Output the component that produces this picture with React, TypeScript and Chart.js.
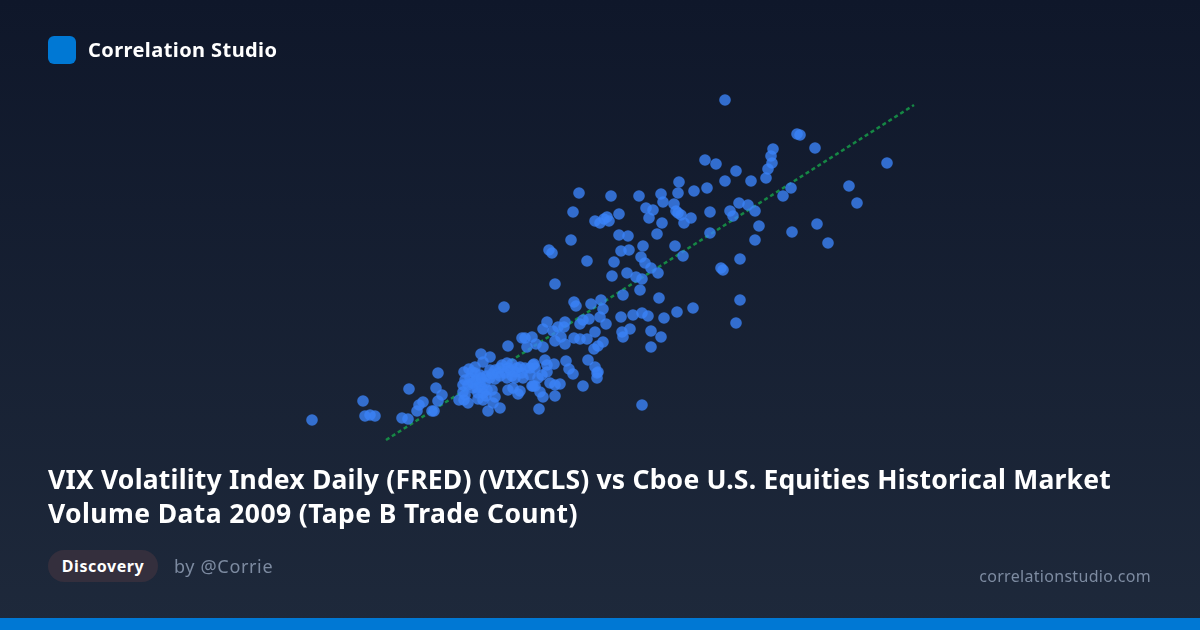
import { useEffect, useRef } from "react";
import { Chart, registerables } from "chart.js";

Chart.register(...registerables);

// the axes are hidden so units are estimated
const vixClose = [
  15.6, 18.15, 18.25, 18.5, 18.75, 20.45, 21.9, 21.8, 22.1, 21.9, 21.15, 20.95, 20.85, 20.1, 20.4, 21.6, 21.7, 25.2,
  25.4, 24.05, 24.5, 24.15, 23.75, 23.45, 23.2, 23.6, 25.35, 25.1, 25.6, 25.4, 24.75, 24.5, 24.9, 25.25, 25.75, 26.1,
  26.0, 26.65, 26.75, 27.25, 27.35, 27.7, 28.3, 27.35, 27.1, 26.9, 26.5, 26.15, 25.75, 25.35, 24.75, 24.5, 24.0, 23.75,
  23.25, 23.15, 23.15, 22.95, 23.2, 23.4, 23.25, 23.65, 24.0, 24.25, 24.1, 23.85, 24.35, 24.6, 24.15, 23.9, 24.15, 24.75,
  24.65, 24.4, 25.0, 25.4, 25.65, 26.0, 25.9, 26.65, 27.0, 27.15, 27.5, 27.75, 28.0, 27.75, 26.95, 26.75, 26.7, 26.6,
  23.5, 23.8, 24.05, 24.3, 24.6, 25.0, 25.5, 25.85, 26.25, 26.5, 25.6, 25.0, 23.9, 23.65, 23.4, 24.3,
  28.7, 28.8, 29.55, 30.05, 30.15, 30.0, 30.3, 29.45, 29.15, 29.0, 27.35, 27.15, 27.65, 27.9, 28.25, 28.2, 29.75, 28.7,
  29.0, 29.35, 30.15, 29.9, 29.7, 28.05, 27.75, 28.25, 26.1, 26.25, 26.6, 26.35, 26.8, 27.15, 29.4, 28.45, 28.65, 29.75,
  29.9, 29.85, 29.85, 29.15,
  34.65, 33.85, 32.95, 32.0, 31.15, 31.05, 31.65, 32.1, 32.4, 33.2, 32.55, 33.05, 32.55, 31.5, 31.1, 31.15, 37.0, 36.8, 32.1,
  28.95, 30.55, 31.95, 33.05, 33.95, 33.9, 34.7, 35.35, 36.25, 36.8, 37.55, 33.15, 33.7, 32.3, 32.65, 32.45, 28.65, 30.95,
  29.75, 30.0, 30.2, 30.35, 30.45, 33.8, 33.9, 34.05, 34.55, 34.2, 33.1, 32.85, 35.5, 36.5, 36.65, 36.95, 37.4, 37.75,
  37.95, 37.75, 35.5, 30.95, 31.4, 28.55, 32.15, 31.05, 31.45, 27.45, 27.6, 33.75, 34.15, 32.05, 32.25, 32.55, 32.9, 29.35,
  30.7, 31.35, 30.6, 31.8, 32.1, 27.75, 36.05, 36.15, 37.0,
  36.25, 39.85, 40.0, 40.75, 38.65, 38.55, 38.6, 38.4, 38.3, 44.35, 42.45, 42.85, 39.55, 39.15, 35.8, 35.25, 39.6, 40.85, 41.4,
];

const tapeBTrades = [
  21.0, 22.9, 21.4, 21.5, 21.4, 24.1, 25.7, 24.2, 23.5, 22.9, 22.8, 22.5, 21.9, 21.2, 21.1, 21.9, 21.9, 32.3,
  28.4, 27.6, 27.3, 26.8, 26.3, 26.1, 25.8, 25.8, 26.7, 26.5, 26.6, 26.2, 26.0, 26.0, 25.7, 25.7, 25.8, 25.7,
  26.3, 26.5, 26.2, 27.0, 26.5, 26.6, 26.9, 25.8, 25.5, 25.2, 25.5, 25.2, 25.2, 25.2, 25.1, 25.2, 25.5, 25.7,
  25.0, 24.5, 23.8, 23.0, 23.0, 22.7, 23.5, 24.7, 24.7, 24.7, 24.2, 24.2, 24.0, 24.0, 23.7, 23.1, 23.0, 23.3,
  22.7, 21.9, 22.2, 24.0, 24.2, 23.9, 23.6, 24.4, 23.8, 23.3, 24.7, 24.5, 24.6, 23.4, 22.1, 24.4, 26.6, 24.4,
  25.2, 25.0, 25.2, 25.4, 25.6, 26.2, 26.0, 26.2, 26.2, 26.2, 25.4, 25.4, 23.7, 24.2, 24.5, 23.4,
  32.8, 32.4, 32.6, 33.0, 32.1, 31.3, 30.6, 31.1, 31.0, 30.6, 30.8, 30.1, 29.9, 30.3, 30.8, 30.3, 29.8, 29.2,
  29.1, 29.1, 28.8, 28.4, 28.1, 29.3, 28.9, 28.6, 29.2, 29.2, 29.3, 28.3, 28.6, 28.3, 27.0, 26.1, 25.6, 26.3,
  25.8, 25.2, 25.7, 24.4,
  32.2, 31.8, 33.2, 34.0, 33.5, 31.3, 31.5, 31.7, 31.4, 31.2, 29.9, 29.3, 28.3, 30.1, 29.8, 29.3, 33.0, 30.7, 22.5,
  43.7, 43.4, 43.4, 43.6, 44.8, 43.7, 43.9, 44.2, 44.9, 45.9, 44.9, 42.8, 42.6, 42.2, 42.0, 41.2, 41.8, 41.6,
  40.9, 40.7, 41.1, 41.3, 40.9, 41.9, 41.7, 41.5, 41.2, 40.7, 40.7, 39.6, 41.8, 41.9, 41.4, 42.7, 42.5, 41.9,
  40.4, 39.0, 39.7, 39.5, 39.4, 39.0, 38.4, 37.9, 38.0, 38.0, 37.7, 38.4, 37.4, 37.3, 36.7, 36.2, 35.7, 36.9,
  36.8, 35.7, 35.4, 35.3, 35.1, 34.6, 36.2, 36.0, 37.1,
  53.0, 49.6, 49.5, 48.2, 48.1, 47.4, 46.7, 46.1, 45.2, 46.7, 44.4, 42.7, 44.2, 43.4, 46.6, 47.0, 39.8, 40.6, 38.7,
];

const trendVix = [19.3, 45.7];
const trendTrades = [19.0, 52.5];

const App = () => {
  const canvasRef = useRef<HTMLCanvasElement | null>(null);

  useEffect(() => {
    document.body.style.margin = "0";
    if (!canvasRef.current) return;

    const chart = new Chart(canvasRef.current, {
      type: "scatter",
      data: {
        datasets: [
          {
            label: "VIXCLS vs Tape B Trade Count",
            data: vixClose.map((v, i) => ({ x: v, y: tapeBTrades[i] })),
            backgroundColor: "rgba(59, 130, 246, 0.8)",
            borderWidth: 0,
            pointRadius: 5.8,
            order: 1,
          },
          {
            label: "Trend",
            type: "line",
            data: trendVix.map((v, i) => ({ x: v, y: trendTrades[i] })),
            borderColor: "rgba(22, 163, 74, 0.8)",
            borderWidth: 2.5,
            borderDash: [4, 3],
            pointRadius: 0,
            fill: false,
            order: 2,
          },
        ],
      },
      options: {
        responsive: false,
        animation: false,
        layout: { padding: 0, autoPadding: false },
        scales: {
          x: { type: "linear", display: false, min: 0, max: 60 },
          y: { type: "linear", display: false, min: 0, max: 63 },
        },
        plugins: {
          legend: { display: false },
          tooltip: { enabled: false },
        },
      },
    });

    return () => chart.destroy();
  }, []);

  return (
    <div
      style={{
        position: "relative",
        width: 1200,
        height: 630,
        overflow: "hidden",
        background: "linear-gradient(180deg, #0f172a 0%, #1e293b 100%)",
        fontFamily: "'Noto Sans', sans-serif",
      }}
    >
      <canvas ref={canvasRef} width={1200} height={630} style={{ position: "absolute", left: 0, top: 0 }} />
      <div style={{ position: "absolute", left: 48, top: 36, width: 28, height: 28, borderRadius: 6, background: "#0078d4" }} />
      <div style={{ position: "absolute", left: 88, top: 36, lineHeight: "28px", fontSize: 20, letterSpacing: 0.42, fontWeight: 700, color: "#fff" }}>
        Correlation Studio
      </div>
      <div
        style={{
          position: "absolute",
          left: 48,
          top: 462,
          width: 1104,
          fontSize: 26.5,
          lineHeight: "34px",
          fontWeight: 700,
          color: "#fff",
        }}
      >
        <span style={{ display: "block", letterSpacing: 0.2 }}>
          VIX Volatility Index Daily (FRED) (VIXCLS) vs Cboe U.S. Equities Historical Market
        </span>
        <span style={{ display: "block", letterSpacing: 0.4 }}>Volume Data 2009 (Tape B Trade Count)</span>
      </div>
      <div
        style={{
          position: "absolute",
          left: 48,
          top: 550,
          width: 110,
          height: 32,
          borderRadius: 16,
          background: "#342f3d",
          color: "#fff",
          fontSize: 16,
          letterSpacing: 0.55,
          fontWeight: 700,
          lineHeight: "32px",
          textAlign: "center",
        }}
      >
        Discovery
      </div>
      <div style={{ position: "absolute", left: 174, top: 550, lineHeight: "32px", fontSize: 18, letterSpacing: 0.65, color: "#7d8ba1" }}>by @Corrie</div>
      <div style={{ position: "absolute", right: 49, top: 560, lineHeight: "32px", fontSize: 16, letterSpacing: 0.3, color: "#7d8ba1" }}>
        correlationstudio.com
      </div>
      <div style={{ position: "absolute", left: 0, top: 618, width: 1200, height: 12, background: "#0078d4" }} />
    </div>
  );
};

export default App;
